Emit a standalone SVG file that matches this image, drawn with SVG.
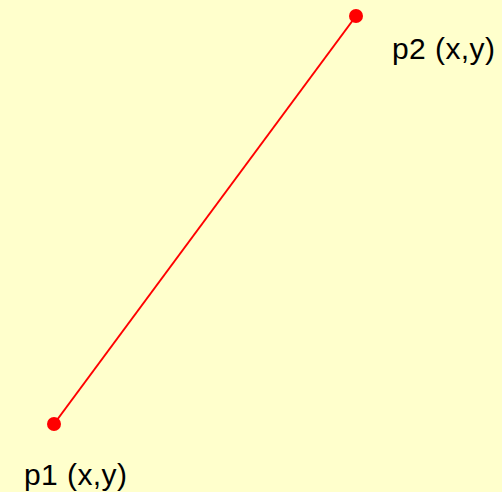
<svg xmlns="http://www.w3.org/2000/svg" width="502" height="492" viewBox="0 0 502 492">
<style>
.pt{fill:#ff0000;}
.lbl{font-family:"Liberation Sans",Arial,sans-serif;font-size:30px;fill:#000;}
.ln{stroke:#ff0000;stroke-width:2;fill:none;}
</style>
<rect width="502" height="492" fill="#ffffcc"/>
<g id="connectors"><line class="ln" x1="54" y1="424" x2="356" y2="16"/></g>
<g id="p1"><circle class="pt" cx="54" cy="424" r="7"/><text class="lbl" x="24" y="485" textLength="103">p1 (x,y)</text></g>
<g id="p2"><circle class="pt" cx="356" cy="16" r="7"/><text class="lbl" x="392" y="59" textLength="103">p2 (x,y)</text></g>
</svg>
